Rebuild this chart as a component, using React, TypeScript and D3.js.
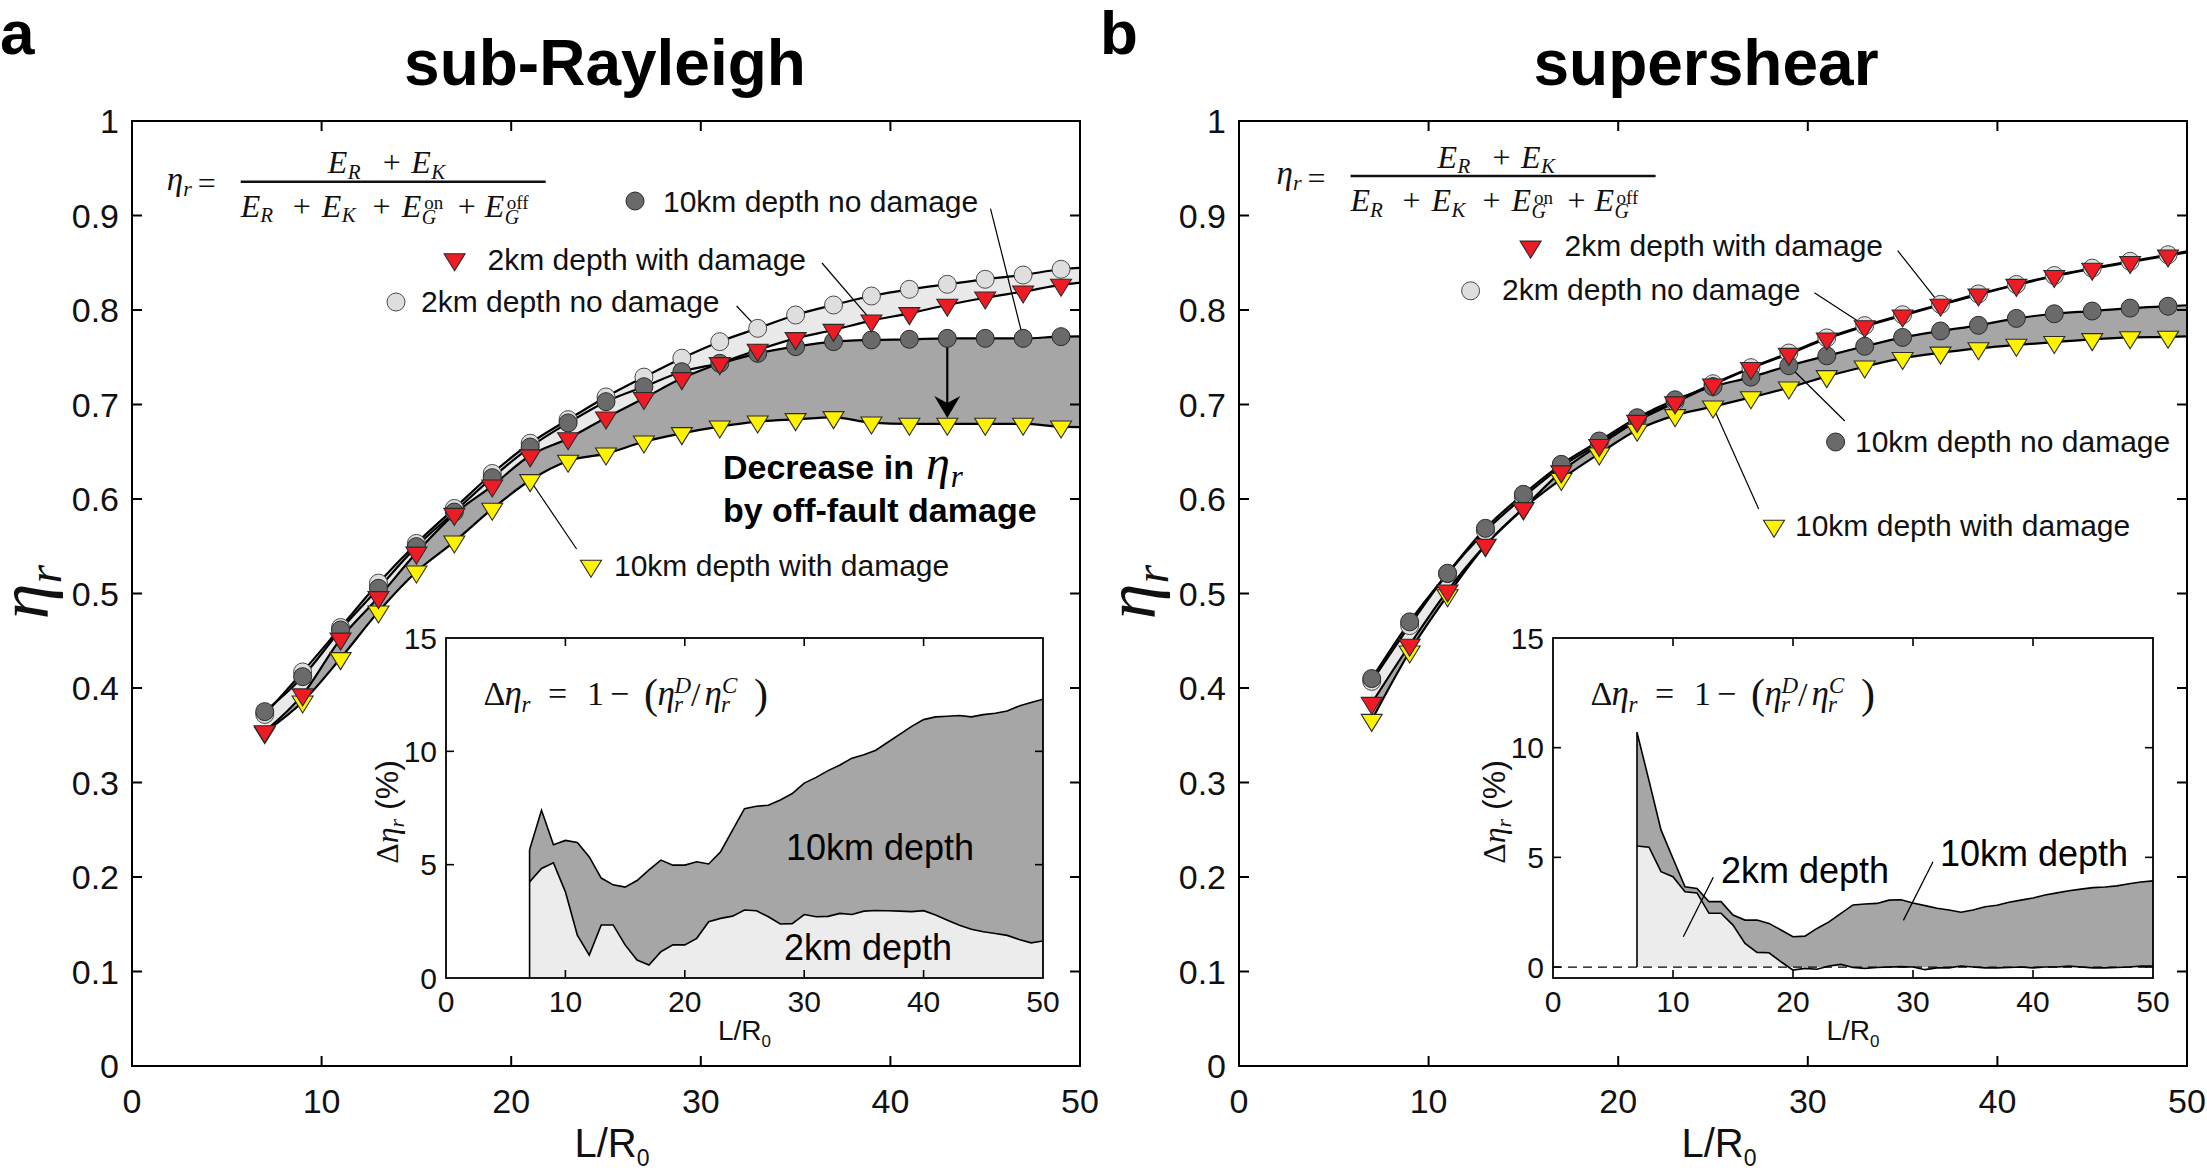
import React from "react";
import * as d3 from "d3";

const W = 2207;
const H = 1173;
const SANS = "'Liberation Sans', Arial, Helvetica, sans-serif";
const SERIF = "'Liberation Serif', 'Times New Roman', serif";

// ---------------- data ----------------
// marker positions on the L/R0 axis; every line also carries a value at L/R0 = 50 where it ends
const markerL = [7, 9, 11, 13, 15, 17, 19, 21, 23, 25, 27, 29, 31, 33, 35, 37, 39, 41, 43, 45, 47, 49];
const lineEndL = 50;

// panel a : sub-Rayleigh (22 markers + end value)
const subR_2kmNoDamage = [0.372, 0.417, 0.464, 0.511, 0.553, 0.59, 0.627, 0.659, 0.684, 0.708, 0.729, 0.749, 0.7665, 0.7806, 0.7947, 0.8053, 0.8148, 0.8219, 0.8272, 0.8325, 0.837, 0.8431, 0.8445];
const subR_2kmDamage = [0.354, 0.393, 0.452, 0.496, 0.543, 0.584, 0.614, 0.646, 0.664, 0.686, 0.7066, 0.7277, 0.7436, 0.7577, 0.77, 0.7788, 0.7887, 0.7965, 0.8053, 0.813, 0.8194, 0.8265, 0.829];
const subR_10kmNoDamage = [0.375, 0.412, 0.4614, 0.5055, 0.5496, 0.5862, 0.6226, 0.655, 0.6805, 0.703, 0.7188, 0.7347, 0.7436, 0.7541, 0.7612, 0.7665, 0.7683, 0.769, 0.77, 0.77, 0.77, 0.7718, 0.772];
const subR_10kmDamage = [0.353, 0.3855, 0.4314, 0.4808, 0.523, 0.5548, 0.5895, 0.6198, 0.6403, 0.648, 0.6606, 0.6695, 0.6765, 0.6818, 0.6843, 0.6864, 0.6808, 0.6794, 0.6794, 0.6794, 0.6794, 0.6765, 0.676];

// panel b : supershear
const super_2kmNoDamage = [0.407, 0.466, 0.521, 0.566, 0.602, 0.634, 0.659, 0.684, 0.703, 0.722, 0.739, 0.7545, 0.7705, 0.7835, 0.795, 0.806, 0.817, 0.827, 0.8365, 0.8443, 0.8515, 0.8585, 0.862];
const super_2kmDamage = [0.384, 0.4455, 0.503, 0.5513, 0.5901, 0.629, 0.657, 0.6825, 0.702, 0.721, 0.7384, 0.7534, 0.7696, 0.7826, 0.794, 0.8053, 0.8162, 0.8264, 0.8357, 0.8434, 0.8506, 0.8575, 0.861];
const super_10kmNoDamage = [0.41, 0.47, 0.5214, 0.569, 0.605, 0.6367, 0.6614, 0.686, 0.705, 0.719, 0.729, 0.741, 0.7515, 0.7616, 0.771, 0.7778, 0.7838, 0.7911, 0.796, 0.7989, 0.802, 0.804, 0.805];
const super_10kmDamage = [0.3661, 0.4384, 0.498, 0.551, 0.59, 0.621, 0.648, 0.673, 0.6885, 0.6977, 0.7075, 0.7177, 0.7298, 0.74, 0.749, 0.7547, 0.7593, 0.763, 0.766, 0.769, 0.771, 0.7715, 0.772];

// insets: L/R0 = 7 ... 50
const insetL = [7, 8, 9, 10, 11, 12, 13, 14, 15, 16, 17, 18, 19, 20, 21, 22, 23, 24, 25, 26, 27, 28, 29, 30, 31, 32, 33, 34, 35, 36, 37, 38, 39, 40, 41, 42, 43, 44, 45, 46, 47, 48, 49, 50];
const subR_delta10km = [5.66, 7.4, 5.88, 6.07, 5.98, 5.34, 4.41, 4.11, 4.01, 4.3, 4.77, 5.2, 4.98, 4.98, 5.13, 5.03, 5.57, 6.52, 7.47, 7.58, 7.62, 7.85, 8.14, 8.6, 8.85, 9.15, 9.4, 9.7, 9.85, 10.05, 10.4, 10.75, 11.1, 11.4, 11.52, 11.55, 11.58, 11.52, 11.62, 11.68, 11.78, 12.0, 12.15, 12.3];
const subR_delta2km = [4.24, 4.83, 5.08, 3.8, 1.89, 1.01, 2.34, 2.34, 1.46, 0.79, 0.57, 1.16, 1.46, 1.46, 1.75, 2.48, 2.63, 2.73, 3.0, 2.97, 2.7, 2.38, 2.4, 2.8, 2.7, 2.72, 2.85, 2.8, 2.95, 2.98, 2.97, 2.95, 2.93, 2.97, 2.78, 2.55, 2.33, 2.15, 2.04, 1.96, 1.88, 1.7, 1.55, 1.63];
const super_delta10km = [10.7, 8.5, 6.25, 4.95, 3.66, 3.58, 2.98, 2.98, 2.37, 2.14, 2.14, 1.99, 1.69, 1.38, 1.41, 1.76, 2.06, 2.45, 2.83, 2.87, 2.9, 3.05, 3.07, 2.92, 2.8, 2.68, 2.6, 2.5, 2.6, 2.75, 2.82, 2.95, 3.05, 3.15, 3.28, 3.38, 3.48, 3.55, 3.62, 3.65, 3.7, 3.8, 3.88, 3.93];
const super_delta2km = [5.52, 5.46, 4.35, 4.12, 3.43, 3.38, 2.45, 2.45, 1.91, 1.08, 0.67, 0.65, 0.24, -0.14, -0.06, -0.1, 0.05, 0.12, -0.02, -0.06, -0.02, 0.0, 0.02, 0.0, -0.12, -0.04, -0.04, 0.05, 0.0, -0.04, -0.04, -0.02, 0.0, -0.04, 0.0, 0.0, 0.04, 0.0, -0.04, -0.04, -0.02, 0.0, 0.04, 0.05];

// ticks
const mainYTicks = [0, 0.1, 0.2, 0.3, 0.4, 0.5, 0.6, 0.7, 0.8, 0.9, 1];
const mainYLabels = ["0", "0.1", "0.2", "0.3", "0.4", "0.5", "0.6", "0.7", "0.8", "0.9", "1"];
const xTicks = [0, 10, 20, 30, 40, 50];
const xLabels = ["0", "10", "20", "30", "40", "50"];
const insetYTicks = [0, 5, 10, 15];
const insetYLabels = ["0", "5", "10", "15"];

// ---------------- layout / style ----------------
const PLOT_TOP = 121;
const PLOT_BOTTOM = 1066;
const INSET_TOP = 638;
const INSET_BOTTOM = 978;

const COL = {
  darkBand: "#a6a6a6",
  lightBand: "#e9e9e9",
  darkMarker: "#6a6a6a",
  lightMarker: "#dedede",
  red: "#ed1c24",
  yellow: "#fff200",
  outline: "#2a2a2a",
};

type SeriesKey = "noD2" | "d2" | "noD10" | "d10";
const markerType: Record<SeriesKey, string> = { noD2: "light", d2: "red", noD10: "dark", d10: "yellow" };

const panels = [
  {
    key: "a", letter: "a", letterX: 0, title: "sub-Rayleigh", titleX: 605,
    x0: 132, x1: 1080,
    series: { noD2: subR_2kmNoDamage, d2: subR_2kmDamage, noD10: subR_10kmNoDamage, d10: subR_10kmDamage },
    eq: [240.7, 181.7],
    inset: { x0: 446, x1: 1043, yMin: 0, d10: subR_delta10km, d2: subR_delta2km, dashed: false },
    legends: [
      { s: "noD10", label: "10km depth no damage", mx: 635, my: 201, tx: 663, ty: 211.6, lx: 990.5, ly: 208.6, L: 47 },
      { s: "d2", label: "2km depth with damage", mx: 454.6, my: 259.5, tx: 487.5, ty: 269.8, lx: 822, ly: 263, L: 39 },
      { s: "noD2", label: "2km depth no damage", mx: 396, my: 302, tx: 421, ty: 312, lx: 736.6, ly: 306, L: 33 },
      { s: "d10", label: "10km depth with damage", mx: 591, my: 566, tx: 614, ty: 576, lx: 576.6, ly: 549, L: 21 },
    ],
    insetLabels: [
      { text: "10km depth", x: 786, y: 860 },
      { text: "2km depth", x: 784, y: 960 },
    ],
    insetLeaders: [] as number[][],
    arrowL: 43,
  },
  {
    key: "b", letter: "b", letterX: 1100, title: "supershear", titleX: 1706,
    x0: 1239, x1: 2187,
    series: { noD2: super_2kmNoDamage, d2: super_2kmDamage, noD10: super_10kmNoDamage, d10: super_10kmDamage },
    eq: [1350.6, 176],
    inset: { x0: 1553, x1: 2153, yMin: -0.5, d10: super_delta10km, d2: super_delta2km, dashed: true },
    legends: [
      { s: "d2", label: "2km depth with damage", mx: 1530.6, my: 246.8, tx: 1564.5, ty: 256.4, lx: 1897.7, ly: 250.7, L: 37 },
      { s: "noD2", label: "2km depth no damage", mx: 1470.6, my: 290.8, tx: 1502, ty: 300, lx: 1814.4, ly: 292.8, L: 33 },
      { s: "noD10", label: "10km depth no damage", mx: 1835.6, my: 442, tx: 1855, ty: 451.6, lx: 1844.8, ly: 421, L: 29 },
      { s: "d10", label: "10km depth with damage", mx: 1774, my: 526, tx: 1795, ty: 535.8, lx: 1758.7, ly: 509, L: 25 },
    ],
    insetLabels: [
      { text: "2km depth", x: 1721, y: 883 },
      { text: "10km depth", x: 1940, y: 865.5 },
    ],
    insetLeaders: [
      [1713.3, 877.3, 1683.3, 936.7],
      [1933, 861.8, 1903.4, 920.4],
    ],
    arrowL: null as number | null,
  },
];

// ---------------- pieces ----------------
function Marker({ type, x, y }: { type: string; x: number; y: number }) {
  if (type === "light" || type === "dark") {
    return (
      <circle cx={x} cy={y} r={9} fill={type === "light" ? COL.lightMarker : COL.darkMarker}
        stroke={type === "light" ? "#4a4a4a" : COL.outline} strokeWidth={1} />
    );
  }
  const d = `M${x - 10.5},${y - 5.7}L${x + 10.5},${y - 5.7}L${x},${y + 11.3}Z`;
  return <path d={d} fill={type === "red" ? COL.red : COL.yellow} stroke={COL.outline} strokeWidth={1.1} strokeLinejoin="miter" />;
}

type Tok = [string, number, number, number, boolean, string?];
function Tokens({ ox, oy, toks }: { ox: number; oy: number; toks: Tok[] }) {
  return (
    <g>
      {toks.map((t, i) => (
        <text key={i} x={ox + t[1]} y={oy + t[2]} fontSize={t[3]} fontFamily={SERIF}
          fontStyle={t[4] ? "italic" : "normal"} textAnchor={(t[5] as any) || "start"} fill="#111">
          {t[0]}
        </text>
      ))}
    </g>
  );
}

function EtaFraction({ ox, oy }: { ox: number; oy: number }) {
  const toks: Tok[] = [
    ["η", -74, 8.3, 33, true],
    ["r", -57.5, 14, 22, true],
    ["=", -43, 12.5, 32, false],
    // numerator
    ["E", 87, -8.4, 32, true],
    ["R", 107, -3, 21, true],
    ["+", 151, -8.4, 32, false, "middle"],
    ["E", 170.5, -8.4, 32, true],
    ["K", 190.5, -3, 21, true],
    // denominator
    ["E", 0, 35, 32, true],
    ["R", 19.5, 40.5, 21, true],
    ["+", 61, 35, 32, false, "middle"],
    ["E", 81, 35, 32, true],
    ["K", 101, 40.5, 21, true],
    ["+", 140.8, 35, 32, false, "middle"],
    ["E", 161, 35, 32, true],
    ["G", 181, 42, 20, true],
    ["on", 183.5, 27.5, 19, false],
    ["+", 226, 35, 32, false, "middle"],
    ["E", 244, 35, 32, true],
    ["G", 264, 42, 20, true],
    ["off", 266, 27.5, 19, false],
  ];
  return (
    <g>
      <line x1={ox} x2={ox + 305} y1={oy} y2={oy} stroke="#111" strokeWidth={2.6} />
      <Tokens ox={ox} oy={oy} toks={toks} />
    </g>
  );
}

function DeltaEq({ ox, oy }: { ox: number; oy: number }) {
  const toks: Tok[] = [
    ["Δ", 37.5, 0, 34, false],
    ["η", 58.5, 0, 35, true],
    ["r", 75.5, 7, 23, true],
    ["=", 102, 0, 34, false],
    ["1", 141, 0, 34, false],
    ["−", 164, 0, 34, false],
    ["(", 198, 3, 42, false],
    ["η", 211.5, 0, 35, true],
    ["D", 228.5, -12, 23, true],
    ["r", 228, 7, 23, true],
    ["/", 245, 1, 34, false],
    ["η", 258.5, 0, 35, true],
    ["C", 276, -12, 23, true],
    ["r", 275, 7, 23, true],
    [")", 308, 3, 42, false],
  ];
  return <Tokens ox={ox} oy={oy} toks={toks} />;
}

function Panel({ p }: { p: (typeof panels)[number] }) {
  const x = d3.scaleLinear().domain([0, 50]).range([p.x0, p.x1]);
  const y = d3.scaleLinear().domain([0, 1]).range([PLOT_BOTTOM, PLOT_TOP]);
  const lineLs = [...markerL, lineEndL];
  const S = p.series as Record<SeriesKey, number[]>;

  const line = d3.line<number>()
    .x((_, i) => x(lineLs[i]))
    .y((v) => y(v))
    .curve(d3.curveMonotoneX);
  const band = (hi: number[], lo: number[]) =>
    d3.area<number>()
      .x((_, i) => x(lineLs[i]))
      .y1((v) => y(v))
      .y0((_, i) => y(lo[i]))
      .curve(d3.curveMonotoneX)(hi) || "";

  const valAt = (s: SeriesKey, L: number) => S[s][markerL.indexOf(L)];

  // inset
  const ins = p.inset;
  const ix = d3.scaleLinear().domain([0, 50]).range([ins.x0, ins.x1]);
  const iy = d3.scaleLinear().domain([ins.yMin, 15]).range([INSET_BOTTOM, INSET_TOP]);
  const iArea = d3.area<number>().x((_, i) => ix(insetL[i])).y0(iy(0)).y1((v) => iy(v));
  const iLine = d3.line<number>().x((_, i) => ix(insetL[i])).y((v) => iy(v));
  const clipId = `clip-inset-${p.key}`;

  const order: SeriesKey[] = ["noD2", "noD10", "d10", "d2"];
  const axisMid = (p.x0 + p.x1) / 2;
  const insetMid = (ins.x0 + ins.x1) / 2;

  let arrow: React.ReactNode = null;
  if (p.arrowL != null) {
    const ax = x(p.arrowL);
    const y1 = y(valAt("noD10", p.arrowL)) + 9;
    const y2 = y(valAt("d10", p.arrowL)) - 6;
    arrow = (
      <g>
        <line x1={ax} x2={ax} y1={y1} y2={y2 - 12} stroke="#000" strokeWidth={2.2} />
        <path d={`M${ax},${y2}L${ax - 13},${y2 - 22}L${ax},${y2 - 15}L${ax + 13},${y2 - 22}Z`} fill="#000" />
      </g>
    );
  }

  return (
    <g>
      {/* letter & title */}
      <text x={p.letterX} y={54} fontFamily={SANS} fontWeight="bold" fontSize={62} fill="#000">{p.letter}</text>
      <text x={p.titleX} y={85} textAnchor="middle" fontFamily={SANS} fontWeight="bold" fontSize={64} fill="#000">{p.title}</text>

      {/* bands */}
      <path d={band(S.noD10, S.d10)} fill={COL.darkBand} />
      <path d={band(S.noD2, S.d2)} fill={COL.lightBand} />
      {/* lines */}
      {(["noD10", "d10", "noD2", "d2"] as SeriesKey[]).map((k) => (
        <path key={k} d={line(S[k]) || ""} fill="none" stroke="#000" strokeWidth={2.2} />
      ))}

      {/* leader lines (under markers) */}
      {p.legends.map((lg, i) => (
        <line key={i} x1={lg.lx} y1={lg.ly} x2={x(lg.L)} y2={y(valAt(lg.s as SeriesKey, lg.L))}
          stroke="#000" strokeWidth={1.2} />
      ))}

      {/* markers */}
      {order.map((k) => (
        <g key={k}>
          {markerL.map((L, i) => (
            <Marker key={i} type={markerType[k]} x={x(L)} y={y(S[k][i])} />
          ))}
        </g>
      ))}

      {arrow}
      {p.arrowL != null && (
        <g fontFamily={SANS} fontWeight="bold" fontSize={34} fill="#000">
          <text x={723} y={479}>Decrease in</text>
          <text x={926} y={479} fontFamily={SERIF} fontWeight="normal" fontStyle="italic" fontSize={48}>
            η<tspan fontSize={31} dx={1} dy={8}>r</tspan>
          </text>
          <text x={723} y={522}>by off-fault damage</text>
        </g>
      )}

      {/* legend entries */}
      {p.legends.map((lg, i) => (
        <g key={i}>
          <Marker type={markerType[lg.s as SeriesKey]} x={lg.mx} y={lg.my} />
          <text x={lg.tx} y={lg.ty} fontFamily={SANS} fontSize={30} fill="#111">{lg.label}</text>
        </g>
      ))}

      <EtaFraction ox={p.eq[0]} oy={p.eq[1]} />

      {/* main frame & ticks */}
      <rect x={p.x0} y={PLOT_TOP} width={p.x1 - p.x0} height={PLOT_BOTTOM - PLOT_TOP} fill="none" stroke="#000" strokeWidth={2} />
      {mainYTicks.slice(1, -1).map((t) => (
        <g key={t} stroke="#000" strokeWidth={2}>
          <line x1={p.x0} x2={p.x0 + 10} y1={y(t)} y2={y(t)} />
          <line x1={p.x1} x2={p.x1 - 10} y1={y(t)} y2={y(t)} />
        </g>
      ))}
      {xTicks.slice(1, -1).map((t) => (
        <g key={t} stroke="#000" strokeWidth={2}>
          <line x1={x(t)} x2={x(t)} y1={PLOT_BOTTOM} y2={PLOT_BOTTOM - 10} />
          <line x1={x(t)} x2={x(t)} y1={PLOT_TOP} y2={PLOT_TOP + 10} />
        </g>
      ))}
      {mainYTicks.map((t, i) => (
        <text key={t} x={p.x0 - 13} y={y(t) + 12} textAnchor="end" fontFamily={SANS} fontSize={34} fill="#111">{mainYLabels[i]}</text>
      ))}
      {xTicks.map((t, i) => (
        <text key={t} x={x(t)} y={1113} textAnchor="middle" fontFamily={SANS} fontSize={34} fill="#111">{xLabels[i]}</text>
      ))}
      <text x={axisMid + 6} y={1157} textAnchor="middle" fontFamily={SANS} fontSize={40} fill="#111">
        L/R<tspan fontSize={23} dy={9}>0</tspan>
      </text>
      <text transform={`translate(${p.x0 - 84},592) rotate(-90)`} textAnchor="middle" fontFamily={SERIF} fontStyle="italic" fontSize={72} fill="#111">
        η<tspan fontSize={48} dy={13}>r</tspan>
      </text>

      {/* ---------- inset ---------- */}
      <defs>
        <clipPath id={clipId}>
          <rect x={ins.x0} y={INSET_TOP} width={ins.x1 - ins.x0} height={INSET_BOTTOM - INSET_TOP} />
        </clipPath>
      </defs>
      <rect x={ins.x0} y={INSET_TOP} width={ins.x1 - ins.x0} height={INSET_BOTTOM - INSET_TOP} fill="#fff" />
      <g clipPath={`url(#${clipId})`}>
        <path d={iArea(ins.d10) || ""} fill={COL.darkBand} />
        <path d={iArea(ins.d2) || ""} fill="#ececec" />
        {ins.dashed && (
          <line x1={ix(0)} x2={ix(50)} y1={iy(0)} y2={iy(0)} stroke="#000" strokeWidth={1.3} strokeDasharray="9,6" />
        )}
        <path d={iLine(ins.d10) || ""} fill="none" stroke="#000" strokeWidth={1.6} />
        <path d={iLine(ins.d2) || ""} fill="none" stroke="#000" strokeWidth={1.6} />
        <line x1={ix(insetL[0])} x2={ix(insetL[0])} y1={iy(0)} y2={iy(ins.d10[0])} stroke="#000" strokeWidth={1.6} />
      </g>
      <rect x={ins.x0} y={INSET_TOP} width={ins.x1 - ins.x0} height={INSET_BOTTOM - INSET_TOP} fill="none" stroke="#000" strokeWidth={1.8} />
      {insetYTicks.filter((t) => iy(t) < INSET_BOTTOM - 1 && iy(t) > INSET_TOP + 1).map((t) => (
        <g key={t} stroke="#000" strokeWidth={1.6}>
          <line x1={ins.x0} x2={ins.x0 + 8} y1={iy(t)} y2={iy(t)} />
          <line x1={ins.x1} x2={ins.x1 - 8} y1={iy(t)} y2={iy(t)} />
        </g>
      ))}
      {xTicks.slice(1, -1).map((t) => (
        <g key={t} stroke="#000" strokeWidth={1.6}>
          <line x1={ix(t)} x2={ix(t)} y1={INSET_BOTTOM} y2={INSET_BOTTOM - 8} />
          <line x1={ix(t)} x2={ix(t)} y1={INSET_TOP} y2={INSET_TOP + 8} />
        </g>
      ))}
      {insetYTicks.map((t, i) => (
        <text key={t} x={ins.x0 - 9} y={iy(t) + 10.5} textAnchor="end" fontFamily={SANS} fontSize={30} fill="#111">{insetYLabels[i]}</text>
      ))}
      {xTicks.map((t, i) => (
        <text key={t} x={ix(t)} y={1012} textAnchor="middle" fontFamily={SANS} fontSize={30} fill="#111">{xLabels[i]}</text>
      ))}
      <text x={insetMid} y={1040} textAnchor="middle" fontFamily={SANS} fontSize={28} fill="#111">
        L/R<tspan fontSize={17} dy={7}>0</tspan>
      </text>
      <text transform={`translate(${ins.x0 - 48},812) rotate(-90)`} textAnchor="middle" fontSize={32} fill="#111">
        <tspan fontFamily={SERIF}>Δ</tspan>
        <tspan fontFamily={SERIF} fontStyle="italic">η</tspan>
        <tspan fontFamily={SERIF} fontStyle="italic" fontSize={22} dy={6}>r</tspan>
        <tspan fontFamily={SANS} dy={-6}>{" (%)"}</tspan>
      </text>
      <DeltaEq ox={ins.x0} oy={INSET_TOP + 67} />
      {p.insetLabels.map((l, i) => (
        <text key={i} x={l.x} y={l.y} fontFamily={SANS} fontSize={36} fill="#000">{l.text}</text>
      ))}
      {p.insetLeaders.map((l, i) => (
        <line key={i} x1={l[0]} y1={l[1]} x2={l[2]} y2={l[3]} stroke="#000" strokeWidth={1.3} />
      ))}
    </g>
  );
}

export default function App() {
  return (
    <div style={{ position: "absolute", left: 0, top: 0, width: W, height: H, background: "#fff", overflow: "hidden" }}>
      <svg width={W} height={H} viewBox={`0 0 ${W} ${H}`} style={{ display: "block" }}>
        <rect width={W} height={H} fill="#fff" />
        {panels.map((p) => (
          <Panel key={p.key} p={p} />
        ))}
      </svg>
    </div>
  );
}
